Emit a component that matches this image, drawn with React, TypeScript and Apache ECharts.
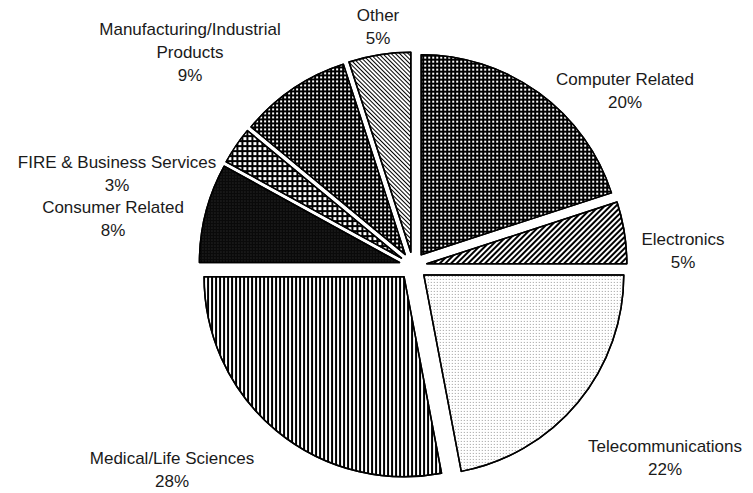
import React, { useEffect, useRef } from "react";
import * as echarts from "echarts";

// ---- data ----
const categories = [
  "Computer Related",
  "Electronics",
  "Telecommunications",
  "Medical/Life Sciences",
  "Consumer Related",
  "FIRE & Business Services",
  "Manufacturing/Industrial Products",
  "Other",
];
const shares = [20, 5, 22, 28, 8, 3, 9, 5];
const labelNames = [
  "Computer Related",
  "Electronics",
  "Telecommunications",
  "Medical/Life Sciences",
  "Consumer Related",
  "FIRE & Business Services",
  "Manufacturing/Industrial\nProducts",
  "Other",
];

// ---- styles (fill + hatch pattern per slice) ----
const sliceStyles: any[] = [
  { color: "#000", decal: { symbol: "rect", color: "#fff", dashArrayX: [1.7, 1.3], dashArrayY: [1.7, 1.3], symbolSize: 1 } },
  { color: "#fff", decal: { symbol: "rect", color: "#000", dashArrayX: [1, 0], dashArrayY: [1.3, 1.4], symbolSize: 1, rotation: -Math.PI / 4 } },
  { color: "#fff", decal: { symbol: "rect", color: "#9a9a9a", dashArrayX: [1, 2], dashArrayY: [1, 2], symbolSize: 1 } },
  { color: "#fff", decal: { symbol: "rect", color: "#000", dashArrayX: [1.7, 1.6], dashArrayY: [1, 0], symbolSize: 1 } },
  { color: "#0a0a0a", decal: { symbol: "rect", color: "#3a3a3a", dashArrayX: [1, 2], dashArrayY: [1, 2], symbolSize: 1 } },
  { color: "#000", decal: { symbol: "rect", color: "#fff", dashArrayX: [2.5, 1.5], dashArrayY: [2.5, 1.5], symbolSize: 1 } },
  { color: "#000", decal: { symbol: "rect", color: "#fff", dashArrayX: [1.3, 1.7], dashArrayY: [1.3, 1.7], symbolSize: 1 } },
  { color: "#fff", decal: { symbol: "rect", color: "#000", dashArrayX: [1, 0], dashArrayY: [1, 1.8], symbolSize: 1, rotation: Math.PI / 4 } },
];

// label block centres (layout only)
const labelPos = [
  [625, 91],
  [683, 251],
  [665, 458],
  [172, 470],
  [113, 219],
  [117, 174],
  [190, 52],
  [378, 27],
];

export default function App() {
  const ref = useRef<HTMLDivElement>(null);
  useEffect(() => {
    if (!ref.current) return;
    const chart = echarts.init(ref.current, null, { renderer: "svg" });
    chart.setOption({
      animation: false,
      backgroundColor: "#fff",
      graphic: categories.map((c, i) => ({
        type: "text",
        x: labelPos[i][0],
        y: labelPos[i][1],
        silent: true,
        style: {
          text: `${labelNames[i]}\n${shares[i]}%`,
          fill: "#1a1a1a",
          font: '17px "Liberation Sans", Arial, sans-serif',
          lineHeight: 23,
          align: "center",
          verticalAlign: "middle",
        },
      })),
      series: [
        {
          type: "pie",
          center: [413, 266],
          radius: 200,
          startAngle: 90,
          clockwise: true,
          selectedMode: "multiple",
          selectedOffset: 14,
          emphasis: { disabled: true },
          itemStyle: { borderColor: "#000", borderWidth: 1.5 },
          label: { show: false },
          labelLine: { show: false },
          data: categories.map((c, i) => ({
            name: c,
            value: shares[i],
            selected: true,
            itemStyle: { color: sliceStyles[i].color, decal: sliceStyles[i].decal },
            select: { itemStyle: { color: sliceStyles[i].color, decal: sliceStyles[i].decal, borderColor: "#000", borderWidth: 1.5 } },
          })),
        },
      ],
    });
    return () => chart.dispose();
  }, []);
  return (
    <div
      ref={ref}
      style={{ position: "absolute", left: 0, top: 0, width: 753, height: 493 }}
    />
  );
}
